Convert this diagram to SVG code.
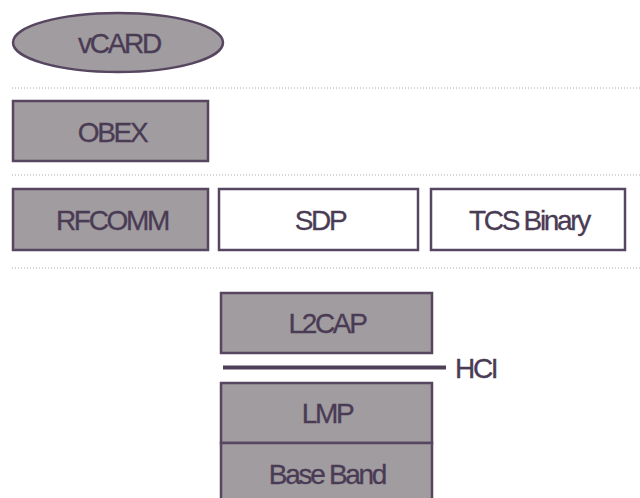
<svg xmlns="http://www.w3.org/2000/svg" width="640" height="498" viewBox="0 0 640 498">
<style>
.g{fill:#a09c9f;stroke:#574660;stroke-width:2.5}
.w{fill:#ffffff;stroke:#574660;stroke-width:2.5}
.t{font-family:"Liberation Sans",Arial,sans-serif;font-size:28px;letter-spacing:-2.3px;fill:#4a3b55;stroke:#4a3b55;stroke-width:0.3;text-anchor:middle}
.d{stroke:#a8a8a8;stroke-width:1;stroke-dasharray:1 2;fill:none}
</style>
<rect width="640" height="498" fill="#ffffff"/>
<g id="separators">
<line class="d" x1="12" y1="88" x2="640" y2="88"/>
<line class="d" x1="12" y1="175" x2="640" y2="175"/>
<line class="d" x1="12" y1="268" x2="640" y2="268"/>
</g>
<g id="vcard"><ellipse class="g" cx="118" cy="42.5" rx="105" ry="29.5"/><text class="t" x="119" y="53">vCARD</text></g>
<g id="obex"><rect class="g" x="13" y="101" width="195" height="60"/><text class="t" x="112" y="142">OBEX</text></g>
<g id="rfcomm"><rect class="g" x="13" y="189" width="195" height="61"/><text class="t" x="112" y="230">RFCOMM</text></g>
<g id="sdp"><rect class="w" x="219" y="189" width="199" height="61"/><text class="t" x="320" y="230">SDP</text></g>
<g id="tcs"><rect class="w" x="431" y="189" width="194" height="61"/><text class="t" x="529" y="230">TCS Binary</text></g>
<g id="l2cap"><rect class="g" x="221" y="293" width="211" height="60"/><text class="t" x="327" y="333">L2CAP</text></g>
<g id="lmp"><rect class="g" x="221" y="383" width="211" height="60"/><text class="t" x="327" y="423">LMP</text></g>
<g id="baseband"><rect class="g" x="221" y="443" width="211" height="62"/><text class="t" x="327" y="484">Base Band</text></g>
<g id="connectors">
<line x1="223" y1="367.5" x2="446" y2="367.5" stroke="#4e3f58" stroke-width="4"/>
</g>
<g id="hci"><text class="t" x="455" y="378" style="text-anchor:start">HCI</text></g>
</svg>
